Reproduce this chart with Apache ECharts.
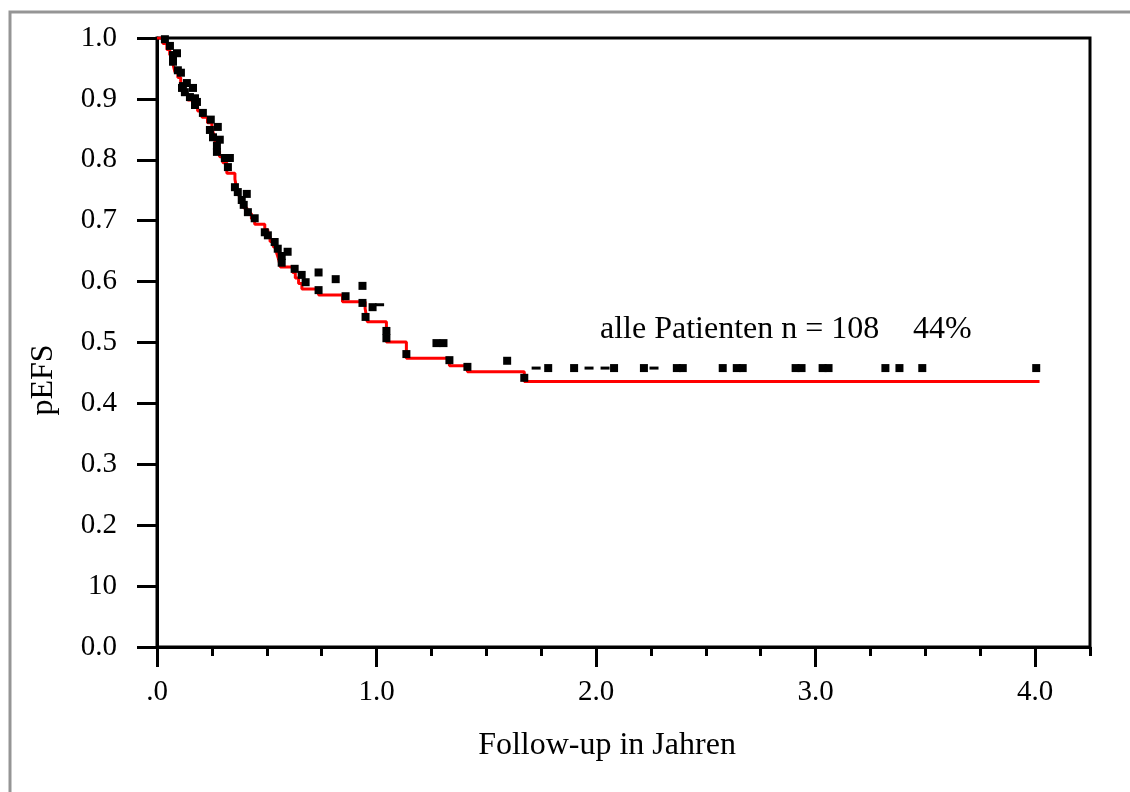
<!DOCTYPE html>
<html>
<head>
<meta charset="utf-8">
<title>pEFS – alle Patienten</title>
<script src="https://cdn.jsdelivr.net/npm/echarts@6/dist/echarts.min.js"></script>
<style>
  html, body { margin: 0; padding: 0; background: #ffffff; }
  #chart { width: 1130px; height: 792px; }
</style>
</head>
<body>
<div id="chart"></div>
<script>
// Kaplan-Meier estimate (event-free survival) – step points: time in years, survival after the step
const kmTime = [0, 0.027, 0.045, 0.058, 0.070, 0.075, 0.082, 0.095, 0.108, 0.115, 0.122,
  0.140, 0.165, 0.185, 0.205, 0.230, 0.250, 0.258, 0.263, 0.268, 0.272, 0.285, 0.300,
  0.318, 0.355, 0.360, 0.368, 0.375, 0.380, 0.395, 0.410, 0.430, 0.445, 0.491, 0.505,
  0.515, 0.530, 0.545, 0.553, 0.562, 0.618, 0.630, 0.645, 0.660, 0.736, 0.845, 0.948,
  0.953, 0.958, 1.045, 1.136, 1.332, 1.414, 1.673, 4.020];
const kmSurv = [1.000, 0.991, 0.981, 0.972, 0.963, 0.954, 0.944, 0.935, 0.926, 0.917, 0.908,
  0.898, 0.889, 0.880, 0.870, 0.861, 0.852, 0.842, 0.833, 0.823, 0.814, 0.805, 0.795,
  0.778, 0.768, 0.758, 0.749, 0.740, 0.730, 0.721, 0.712, 0.703, 0.694, 0.685, 0.675,
  0.666, 0.657, 0.647, 0.638, 0.624, 0.615, 0.606, 0.597, 0.588, 0.578, 0.567, 0.556,
  0.545, 0.534, 0.501, 0.474, 0.462, 0.452, 0.436, 0.436];

// Censored observations (time in years, pEFS)
const censorTime = [0.036, 0.059, 0.091, 0.073, 0.073, 0.095, 0.109, 0.118, 0.136, 0.164,
  0.114, 0.127, 0.150, 0.173, 0.182, 0.173, 0.209, 0.245, 0.241, 0.277, 0.255, 0.286,
  0.273, 0.273, 0.309, 0.332, 0.323, 0.355, 0.368, 0.409, 0.386, 0.395, 0.414, 0.445,
  0.491, 0.505, 0.536, 0.550, 0.595, 0.568, 0.568, 0.627, 0.659, 0.677, 0.736, 0.736,
  0.814, 0.859, 0.936, 0.936, 0.950, 0.982, 1.045, 1.045, 1.136, 1.273, 1.305, 1.332,
  1.414, 1.595, 1.673, 1.782, 1.900, 2.082, 2.218, 2.368, 2.395, 2.577, 2.641, 2.668,
  2.909, 2.936, 3.032, 3.059, 3.318, 3.382, 3.486, 4.005];
const censorSurv = [0.998, 0.987, 0.975, 0.972, 0.961, 0.947, 0.943, 0.921, 0.926, 0.918,
  0.918, 0.911, 0.903, 0.901, 0.895, 0.890, 0.877, 0.866, 0.849, 0.854, 0.837, 0.833,
  0.823, 0.813, 0.803, 0.803, 0.788, 0.755, 0.747, 0.744, 0.734, 0.726, 0.714, 0.704,
  0.681, 0.676, 0.665, 0.654, 0.649, 0.642, 0.631, 0.621, 0.611, 0.599, 0.615, 0.586,
  0.604, 0.576, 0.593, 0.565, 0.542, 0.558, 0.519, 0.507, 0.481, 0.499, 0.499, 0.471,
  0.460, 0.470, 0.442, 0.458, 0.458, 0.458, 0.458, 0.458, 0.458, 0.458, 0.458, 0.458,
  0.458, 0.458, 0.458, 0.458, 0.458, 0.458, 0.458, 0.458];

// Faint, thin censor marks
const thinTime = [1.014, 1.727, 1.968, 2.041, 2.264];
const thinSurv = [0.562, 0.458, 0.458, 0.458, 0.458];

// Axis ticks and labels
const xMajorTicks = [0, 1, 2, 3, 4];
const xTickLabels = ['.0', '1.0', '2.0', '3.0', '4.0'];
const xMinorTicks = [0.25, 0.5, 0.75, 1.25, 1.5, 1.75, 2.25, 2.5, 2.75, 3.25, 3.5, 3.75, 4.25];
const yTickLabels = ['0.0', '10', '0.2', '0.3', '0.4', '0.5', '0.6', '0.7', '0.8', '0.9', '1.0'];

const xTitle = 'Follow-up in Jahren';
const yTitle = 'pEFS';
const noteText = 'alle Patienten n = 108';
const notePct = '44%';

const FONT = '"Liberation Serif", "Times New Roman", serif';
const X_MAX = 4.25;

const chart = echarts.init(document.getElementById('chart'), null, { renderer: 'canvas' });

const axisLine = { show: true, lineStyle: { color: '#000', width: 3 } };

chart.setOption({
  animation: false,
  backgroundColor: '#ffffff',
  grid: {
    left: 157, top: 38, width: 933, height: 609,
    show: true, borderColor: '#000', borderWidth: 3, backgroundColor: 'transparent'
  },
  xAxis: [
    {
      type: 'value', min: 0, max: X_MAX, position: 'bottom',
      axisLine: axisLine,
      splitLine: { show: false },
      axisTick: { show: true, length: 20, inside: false, customValues: xMajorTicks,
        lineStyle: { color: '#000', width: 3 } },
      axisLabel: {
        customValues: xMajorTicks,
        formatter: v => xTickLabels[xMajorTicks.indexOf(Math.round(v))] || '',
        color: '#000', fontFamily: FONT, fontSize: 29, margin: 31
      }
    },
    {
      type: 'value', min: 0, max: X_MAX, position: 'bottom',
      axisLine: { show: false },
      splitLine: { show: false },
      axisTick: { show: true, length: 9, customValues: xMinorTicks,
        lineStyle: { color: '#000', width: 3 } },
      axisLabel: { show: false }
    }
  ],
  yAxis: {
    type: 'value', min: 0, max: 1, interval: 0.1,
    axisLine: axisLine,
    splitLine: { show: false },
    axisTick: { show: true, length: 20, lineStyle: { color: '#000', width: 3 } },
    axisLabel: {
      formatter: v => yTickLabels[Math.round(v * 10)],
      color: '#000', fontFamily: FONT, fontSize: 29, margin: 40
    }
  },
  series: [
    {
      type: 'line', step: 'end', showSymbol: false, symbol: 'none',
      data: kmTime.map((t, i) => [t, kmSurv[i]]),
      lineStyle: { color: '#ff0000', width: 3 },
      z: 2
    },
    {
      type: 'scatter', symbol: 'rect', symbolSize: 8,
      data: censorTime.map((t, i) => [t, censorSurv[i]]),
      itemStyle: { color: '#000', opacity: 1 },
      z: 3
    },
    {
      type: 'scatter', symbol: 'rect', symbolSize: [9, 3],
      data: thinTime.map((t, i) => [t, thinSurv[i]]),
      itemStyle: { color: '#000', opacity: 1 },
      z: 3
    }
  ],
  graphic: [
    {
      type: 'rect', silent: true, z: 0,
      shape: { x: 10, y: 12, width: 1300, height: 1000 },
      style: { fill: null, stroke: '#959595', lineWidth: 3 }
    },
    {
      type: 'text', x: 607, y: 746,
      style: { text: xTitle, font: '32px ' + FONT, fill: '#000', align: 'center', verticalAlign: 'middle' }
    },
    {
      type: 'text', x: 44, y: 380, rotation: Math.PI / 2,
      style: { text: yTitle, font: '32px ' + FONT, fill: '#000', align: 'center', verticalAlign: 'middle' }
    },
    {
      type: 'text', x: 600, y: 330,
      style: { text: noteText, font: '32px ' + FONT, fill: '#000', align: 'left', verticalAlign: 'middle' }
    },
    {
      type: 'text', x: 913, y: 330,
      style: { text: notePct, font: '32px ' + FONT, fill: '#000', align: 'left', verticalAlign: 'middle' }
    }
  ]
});
</script>
</body>
</html>
